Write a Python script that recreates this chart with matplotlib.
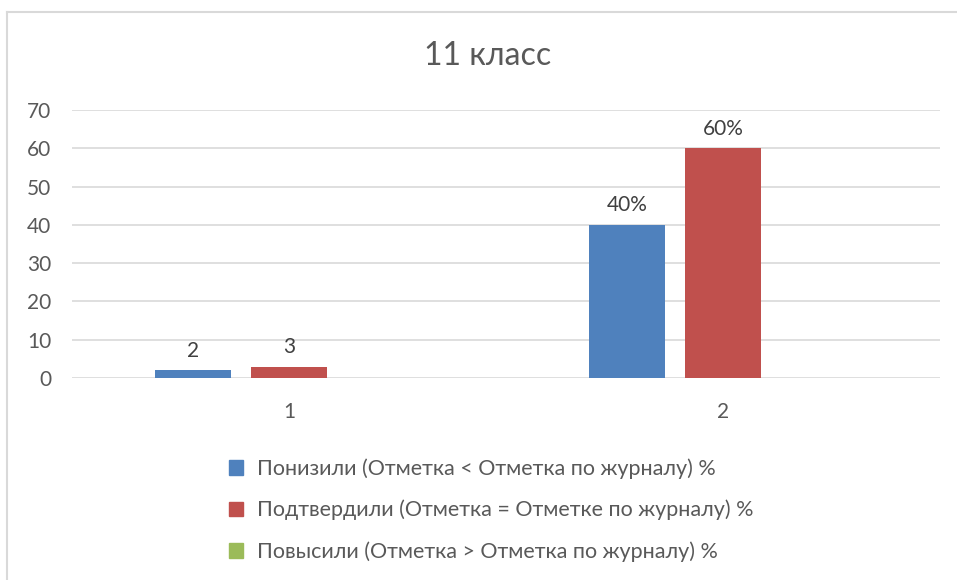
import numpy as np
import matplotlib.pyplot as plt
from matplotlib.lines import Line2D
from matplotlib.patches import Patch

plt.rcParams['font.family'] = ['Lato', 'DejaVu Sans']

# data
categories = ['1', '2']
series_names = [
    'Понизили (Отметка < Отметка по журналу) %',
    'Подтвердили (Отметка = Отметке по журналу) %',
    'Повысили (Отметка > Отметка по журналу) %',
]
series_values = [
    [2, 40],
    [3, 60],
    [0, 0],
]
series_labels = [
    ['2', '40%'],
    ['3', '60%'],
    ['', ''],
]
colors = ['#4F81BD', '#C0504D', '#9BBB59']
text_col = '#595959'

fig = plt.figure(figsize=(9.57, 5.8), dpi=100)
ax = fig.add_axes([72/957, 1-378/580, (940-72)/957, (378-110)/580])

x = np.arange(len(categories))
width = 0.175
step = 0.221
for i, (vals, labs) in enumerate(zip(series_values, series_labels)):
    pos = x + (i-1)*step
    bars = ax.bar(pos, vals, width, color=colors[i], zorder=3)
    for b, lab in zip(bars, labs):
        if lab:
            ax.annotate(lab, (b.get_x()+b.get_width()/2, b.get_height()),
                        xytext=(0, 7), textcoords='offset points',
                        ha='center', va='bottom', fontsize=15, color='#404040')

ax.set_xlim(-0.5, 1.5)
ax.set_ylim(0, 70)
ax.set_yticks(range(0, 71, 10))
ax.set_xticks(x)
ax.set_xticklabels(categories)
ax.tick_params(length=0, labelsize=15, labelcolor=text_col)
ax.tick_params(axis='y', pad=15)
ax.tick_params(axis='x', pad=17)
ax.grid(axis='y', color='#D9D9D9', linewidth=1.2, zorder=0)
for s in ax.spines.values():
    s.set_visible(False)

fig.text(488/957, 1-56/580, '11 класс', ha='center', va='center',
         fontsize=23, color=text_col)

# legend
handles = [Patch(color=c) for c in colors]
fig.legend(handles, series_names, loc='upper left',
           bbox_to_anchor=(210/957, 1-439/580), frameon=False,
           fontsize=15.5, labelcolor=text_col, handlelength=0.65,
           handleheight=0.65, handletextpad=0.65, labelspacing=0.97)

# chart frame
fig.add_artist(Line2D([7.5/957, 7.5/957], [0, 1-11.5/580],
                      color='#D9D9D9', linewidth=1.5, transform=fig.transFigure))
fig.add_artist(Line2D([7.5/957, 1], [1-11.5/580, 1-11.5/580],
                      color='#D9D9D9', linewidth=1.5, transform=fig.transFigure))

fig.savefig('out.png', dpi=100)
